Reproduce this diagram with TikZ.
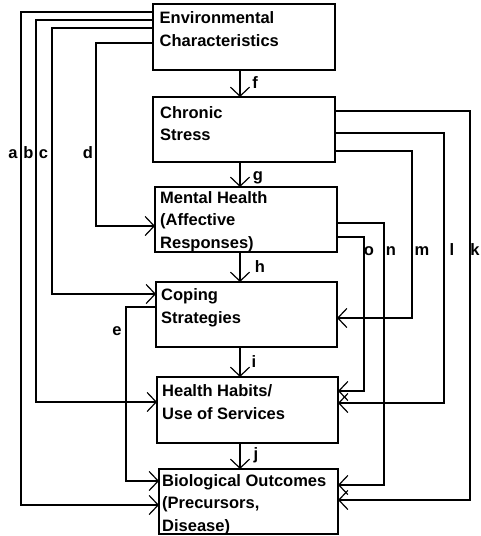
\documentclass[tikz,border=0pt]{standalone}
\usepackage{fontspec}
\setmainfont{Liberation Sans}
\usetikzlibrary{arrows.meta}
\tikzset{
  box/.style={draw, line width=1.3pt, inner sep=0pt, outer sep=0pt},
  boxtext/.style={anchor=base west, inner sep=0pt, align=left,
    font=\fontsize{16.5}{22.5}\selectfont\bfseries},
  lbl/.style={anchor=base, inner sep=0pt, font=\fontsize{16.5}{20}\selectfont\bfseries},
  conn/.style={line width=1.2pt},
  arr/.style={conn, -{Straight Barb[length=9pt,width=19pt]}},
}
\begin{document}
\begin{tikzpicture}[x=1pt,y=-1pt]
\useasboundingbox (0,0) rectangle (480,536);
% boxes
\node[box, minimum width=182pt, minimum height=66pt] (env) at (244,37) {};
\node[box, minimum width=182pt, minimum height=65pt] (chr) at (244,129.5) {};
\node[box, minimum width=182pt, minimum height=65pt] (mh)  at (246,219.5) {};
\node[box, minimum width=181pt, minimum height=65pt] (cop) at (246.5,314.5) {};
\node[box, minimum width=181pt, minimum height=66pt] (hh)  at (247.5,410) {};
\node[box, minimum width=179pt, minimum height=65pt] (bio) at (248.5,501.5) {};
% box texts (base anchor = baseline of last line)
\node[boxtext] (tenv) at (159.5,46) {Environmental\\Characteristics};
\node[boxtext] (tchr) at (160,140.5) {Chronic\\Stress};
\node[boxtext] (tmh)  at (160,248) {Mental Health\\(Affective\\Responses)};
\node[boxtext] (tcop) at (161,323) {Coping\\Strategies};
\node[boxtext] (thh)  at (162,419) {Health Habits/\\Use of Services};
\node[boxtext] (tbio) at (162,531) {Biological Outcomes\\(Precursors,\\Disease)};
% vertical chain
\coordinate (xc) at (240,0);
\draw[arr] (env.south -| xc) -- (chr.north -| xc);
\draw[arr] (chr.south -| xc) -- (mh.north -| xc);
\draw[arr] (mh.south -| xc) -- (cop.north -| xc);
\draw[arr] (cop.south -| xc) -- (hh.north -| xc);
\draw[arr] (hh.south -| xc) -- (bio.north -| xc);
% left connectors
\draw[arr] (env.west |- 0,12) -| (21,505) -- (bio.west |- 0,505);
\draw[arr] (env.west |- 0,20) -| (36,402) -- (hh.west |- 0,402);
\draw[arr] (env.west |- 0,28) -| (52,294) -- (cop.west |- 0,294);
\draw[arr] (env.west |- 0,43) -| (96,226) -- (mh.west |- 0,226);
\draw[arr] (cop.west |- 0,307) -| (126,481) -- (bio.west |- 0,481);
% right connectors
\draw[arr] (chr.east |- 0,111) -| (470,500) -- (bio.east |- 0,500);
\draw[arr] (chr.east |- 0,133) -| (444,403) -- (hh.east |- 0,403);
\draw[arr] (chr.east |- 0,151) -| (412,318) -- (cop.east |- 0,318);
\draw[arr] (mh.east |- 0,223) -| (384,485) -- (bio.east |- 0,485);
\draw[arr] (mh.east |- 0,237) -| (364,391) -- (hh.east |- 0,391);
% labels
\node[lbl] (la) at (13,158) {a};
\node[lbl] (lb) at (28.5,158) {b};
\node[lbl] (lc) at (43.5,158) {c};
\node[lbl] (ld) at (88,158) {d};
\node[lbl] (le) at (117,335) {e};
\node[lbl] (lf) at (255,88) {f};
\node[lbl] (lg) at (258,180) {g};
\node[lbl] (lh) at (260,272) {h};
\node[lbl] (li) at (254,367) {i};
\node[lbl] (lj) at (256,459) {j};
\node[lbl] (lo) at (369,255) {o};
\node[lbl] (ln) at (391,255) {n};
\node[lbl] (lm) at (422,255) {m};
\node[lbl] (ll) at (452,255) {l};
\node[lbl] (lk) at (475,255) {k};
\end{tikzpicture}
\end{document}
